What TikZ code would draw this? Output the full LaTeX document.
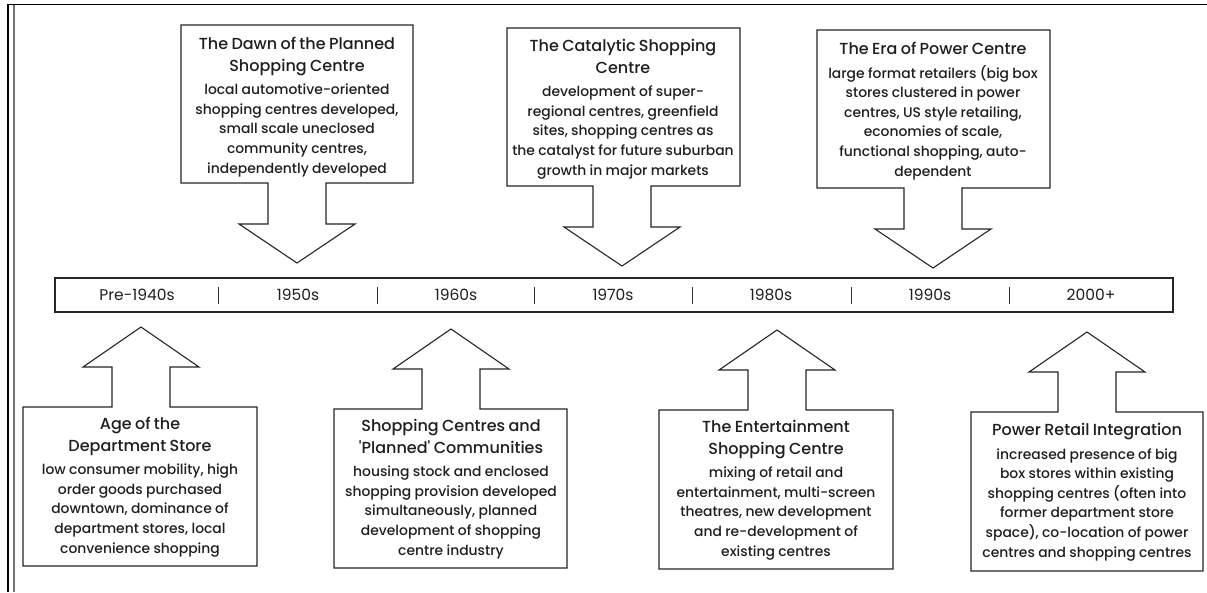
\documentclass[tikz,border=0pt]{standalone}
\usepackage{fontspec}
\setmainfont{Poppins}
\newfontfamily\headface{Poppins Medium}
\newcommand\callouthead{\fontsize{16}{21.5}\selectfont\headface}
\newcommand\calloutbody{\fontsize{13.9}{19.6}\selectfont}
\newcommand\gapline{\par\vspace{4pt}}
% callout box with an arrow pointing down to the timeline: cx, left, right, top, bottom
\newcommand\downcallout[5]{%
  \draw[callout] (#2,#4) -- (#3,#4) -- (#3,#5) -- ({#1+29},#5) -- ({#1+29},{#5+41})
    -- ({#1+58},{#5+41}) -- (#1,{#5+80}) -- ({#1-58},{#5+41}) -- ({#1-29},{#5+41})
    -- ({#1-29},#5) -- (#2,#5) -- cycle;}
% callout box with an arrow pointing up to the timeline: cx, left, right, top, bottom
\newcommand\upcallout[5]{%
  \draw[callout] (#2,#5) -- (#3,#5) -- (#3,#4) -- ({#1+29},#4) -- ({#1+29},{#4-40})
    -- ({#1+58},{#4-40}) -- (#1,{#4-80}) -- ({#1-58},{#4-40}) -- ({#1-29},{#4-40})
    -- ({#1-29},#4) -- (#2,#4) -- cycle;}
\begin{document}
\begin{tikzpicture}[x=1pt,y=-1pt,
  callout/.style={draw=black!85, line width=1.1pt, fill=white, line join=miter},
  blurb/.style={align=center, text width=232pt, inner sep=0pt, text=black!88},
  era/.style={font=\fontsize{15.5}{18}\selectfont, text=black!88, inner sep=0pt},
  tick/.style={draw=black!80, line width=0.9pt}]
\useasboundingbox (0,0) rectangle (1207,592);
\fill[white] (0,0) rectangle (1207,592);

% page frame: top rule and double rule on the left
\draw[black, line width=1.6pt] (8,4.3) -- (1207,4.3);
\draw[black, line width=1.6pt] (8,4.3) -- (8,592);
\draw[black!55, line width=2.6pt] (14,5) -- (14,592);

% timeline bar
\node[draw=black!85, line width=1.1pt, minimum width=1118pt, minimum height=34pt,
      inner sep=0pt] (bar) at (614,295) {};
\foreach \x in {218,377,534,692,851,1009}
  \draw[tick] (\x,287) -- (\x,304);
\node[era] (d1) at (137,295) {Pre-1940s};
\node[era] (d2) at (298,295) {1950s};
\node[era] (d3) at (456,295) {1960s};
\node[era] (d4) at (613,295) {1970s};
\node[era] (d5) at (771,295) {1980s};
\node[era] (d6) at (930,295) {1990s};
\node[era] (d7) at (1091,295) {2000+};

% callouts above the timeline
\downcallout{297}{181}{413}{25}{183}
\node[blurb] (dawn) at (297,107) {\callouthead The Dawn of the Planned\\Shopping Centre\gapline
  \calloutbody local automotive-oriented\\shopping centres developed,\\small scale uneclosed\\community centres,\\independently developed\par};

\downcallout{622}{507}{740}{28}{186}
\node[blurb] (cat) at (623,109) {\callouthead The Catalytic Shopping\\Centre\gapline
  \calloutbody development of super-\\regional centres, greenfield\\sites, shopping centres as\\the catalyst for future suburban\\growth in major markets\par};

\downcallout{933}{817}{1050}{30}{188}
\node[blurb] (era) at (933,111) {\callouthead The Era of Power Centre\gapline
  \calloutbody large format retailers (big box\\stores clustered in power\\centres, US style retailing,\\economies of scale,\\functional shopping, auto-\\dependent\par};

% callouts below the timeline
\upcallout{141}{23}{257}{407}{566}
\node[blurb] (age) at (140,487) {\callouthead Age of the\\Department Store\gapline
  \calloutbody low consumer mobility, high\\order goods purchased\\downtown, dominance of\\department stores, local\\convenience shopping\par};

\upcallout{451}{334}{567}{409}{568}
\node[blurb] (plan) at (451,489) {\callouthead Shopping Centres and\\\textquotesingle Planned\textquotesingle\ Communities\gapline
  \calloutbody housing stock and enclosed\\shopping provision developed\\simultaneously, planned\\development of shopping\\centre industry\par};

\upcallout{777}{659}{893}{410}{569}
\node[blurb] (ent) at (776,490) {\callouthead The Entertainment\\Shopping Centre\gapline
  \calloutbody mixing of retail and\\entertainment, multi-screen\\theatres, new development\\and re-development of\\existing centres\par};

\upcallout{1087}{971}{1203}{412}{571}
\node[blurb] (pow) at (1087,492) {\callouthead Power Retail Integration\gapline
  \calloutbody increased presence of big\\box stores within existing\\shopping centres (often into\\former department store\\space), co-location of power\\centres and shopping centres\par};
\end{tikzpicture}
\end{document}
